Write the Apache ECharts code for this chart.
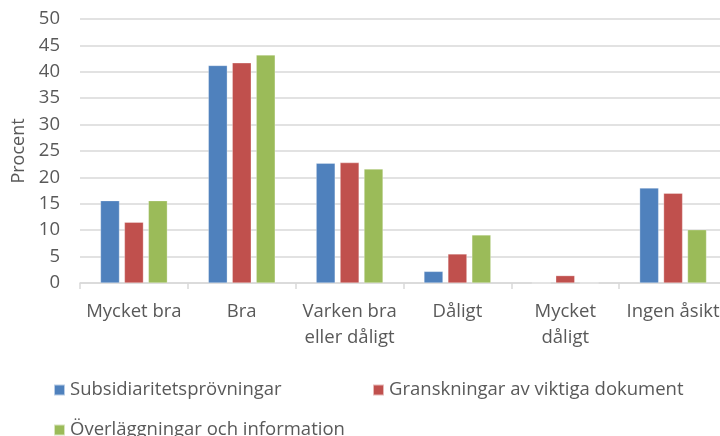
<!DOCTYPE html>
<html>
<head>
<meta charset="utf-8">
<script src="https://cdn.jsdelivr.net/npm/echarts@6/dist/echarts.min.js"></script>
<style>
    html, body { margin: 0; padding: 0; background: #fff; }
    #chart { width: 720px; height: 436px; }
</style>
</head>
<body>
<div id="chart"></div>
<script>
const categories = ["Mycket bra", "Bra", "Varken bra\neller dåligt", "Dåligt", "Mycket\ndåligt", "Ingen åsikt"];
const seriesNames = ["Subsidiaritetsprövningar", "Granskningar av viktiga dokument", "Överläggningar och information"];
const subsidiaritet = [15.6, 41.2, 22.7, 2.2, 0, 18.0];
const granskningar = [11.5, 41.7, 22.8, 5.5, 1.4, 17.0];
const overlaggningar = [15.6, 43.2, 21.6, 9.1, 0, 10.1];
const yTicks = { min: 0, max: 50, interval: 5 };

const colorPalette = ["#4F81BD", "#C0504D", "#9BBB59"];
const textColor = "#595959";
const fontFamily = "'Open Sans', sans-serif";
const fontSize = 18.5;

const chart = echarts.init(document.getElementById("chart"), null, { renderer: "canvas" });

const legendBase = {
    orient: "horizontal",
    icon: "rect",
    itemWidth: 11,
    itemHeight: 11,
    itemGap: 4,
    padding: 0,
    selectedMode: false,
    textStyle: { color: textColor, fontSize: fontSize, lineHeight: 20, fontFamily: fontFamily, padding: [0, 0, 0, 0] }
};

chart.setOption({
    animation: false,
    color: colorPalette,
    backgroundColor: "#fff",
    textStyle: { fontFamily: fontFamily },
    grid: { left: 80, right: -7, top: 19, bottom: 153, containLabel: false, outerBoundsMode: "none" },
    legend: [
        { ...legendBase, data: [seriesNames[0]], left: 53, top: 380 },
        { ...legendBase, data: [seriesNames[1]], left: 372, top: 380 },
        { ...legendBase, data: [seriesNames[2]], left: 53, top: 420 }
    ],
    xAxis: {
        type: "category",
        data: categories,
        axisLine: { lineStyle: { color: "#D9D9D9", width: 1.5 } },
        axisTick: { show: true, length: 6, lineStyle: { color: "#D9D9D9", width: 1.5 } },
        axisLabel: {
            color: textColor,
            fontSize: fontSize,
            fontFamily: fontFamily,
            margin: 16,
            lineHeight: 26,
            interval: 0
        }
    },
    yAxis: {
        type: "value",
        min: yTicks.min,
        max: yTicks.max,
        interval: yTicks.interval,
        name: "Procent",
        nameLocation: "middle",
        nameGap: 52,
        nameRotate: 90,
        nameTextStyle: { color: textColor, fontSize: 18, fontFamily: fontFamily },
        axisLine: { show: false },
        axisTick: { show: false },
        axisLabel: { color: textColor, fontSize: fontSize, fontFamily: fontFamily, margin: 20 },
        splitLine: { lineStyle: { color: "#D9D9D9", width: 1.5 } }
    },
    series: [
        { name: seriesNames[0], type: "bar", data: subsidiaritet, barWidth: 19, barGap: "26%",
          itemStyle: { borderColor: "rgba(255,255,255,0.6)", borderWidth: 0.5 } },
        { name: seriesNames[1], type: "bar", data: granskningar, barWidth: 19, barGap: "26%",
          itemStyle: { borderColor: "rgba(255,255,255,0.6)", borderWidth: 0.5 } },
        { name: seriesNames[2], type: "bar", data: overlaggningar, barWidth: 19, barGap: "26%",
          itemStyle: { borderColor: "rgba(255,255,255,0.6)", borderWidth: 0.5 } }
    ]
});
</script>
</body>
</html>
